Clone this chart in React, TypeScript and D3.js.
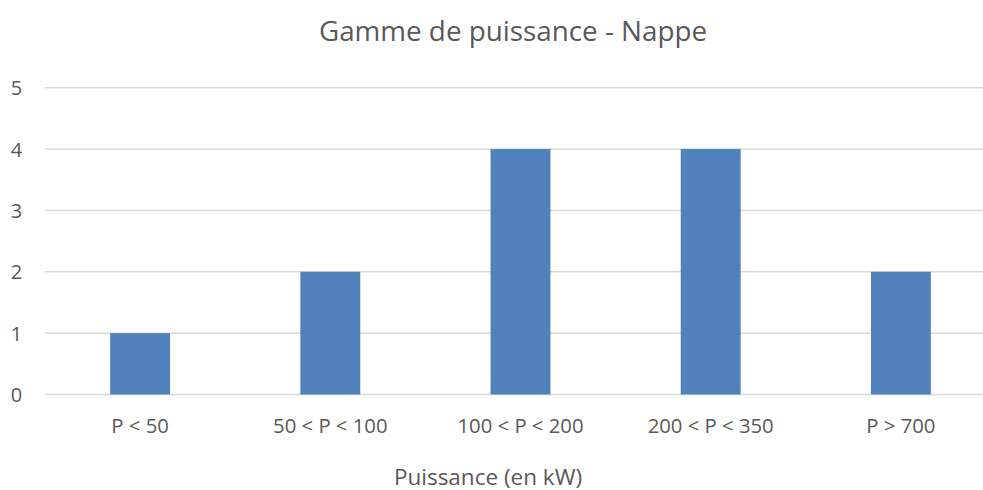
import React from "react";
import * as d3 from "d3";

const categories = ["P < 50", "50 < P < 100", "100 < P < 200", "200 < P < 350", "P > 700"];
const values = [1, 2, 4, 4, 2];
const yTicks = [0, 1, 2, 3, 4, 5];
const title = "Gamme de puissance - Nappe";
const xTitle = "Puissance (en kW)";

const W = 983;
const H = 490;
const FONT = "'Open Sans', sans-serif";

export default function App() {
  const x = d3.scaleBand<string>().domain(categories).range([45, 996]).paddingInner(0.685).paddingOuter(0.3425);
  const y = d3.scaleLinear().domain([0, 5]).range([394.5, 87.7]);
  return (
    <svg width={W} height={H} style={{ position: "absolute", left: 0, top: 0, background: "#fff" }} fontFamily={FONT}>
      <rect x={0} y={0} width={W} height={H} fill="#fff" />
      <text x={513} y={41} textAnchor="middle" fontSize={27.8} fill="#595959">{title}</text>
      {yTicks.map((t) => (
        <g key={t}>
          <line x1={45} x2={W} y1={y(t)} y2={y(t)} stroke="#d9d9d9" strokeWidth={1.5} />
          <text x={16.5} y={y(t) + 7.5} textAnchor="middle" fontSize={20} fill="#595959">{t}</text>
        </g>
      ))}
      {categories.map((c, i) => (
        <rect key={c} x={x(c)!} y={y(values[i])} width={x.bandwidth()} height={y(0) - y(values[i])} fill="#4f81bd" />
      ))}
      {categories.map((c) => (
        <text key={c} x={x(c)! + x.bandwidth() / 2} y={433} textAnchor="middle" fontSize={20.3} fill="#595959">{c}</text>
      ))}
      <text x={488} y={484.5} textAnchor="middle" fontSize={22.5} fill="#595959">{xTitle}</text>
    </svg>
  );
}
